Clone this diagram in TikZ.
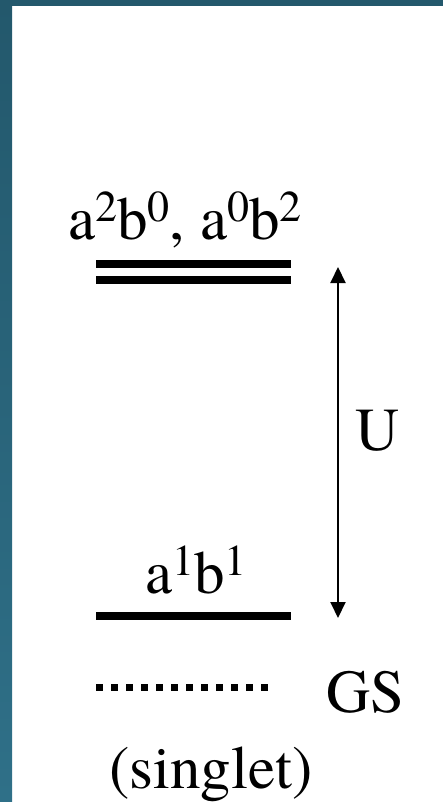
\documentclass[tikz,border=0pt]{standalone}
\usepackage{fontspec}
\setmainfont{texgyretermes-regular.otf}
\usetikzlibrary{arrows.meta}
\definecolor{slidetop}{RGB}{35,88,108}
\definecolor{slidebot}{RGB}{47,112,136}
\newcommand\sups[1]{\raisebox{18pt}{\fontsize{44}{44}\selectfont #1}}

\begin{document}
\begin{tikzpicture}[x=1pt, y=-1pt,
  every node/.style={font=\fontsize{61}{72}\selectfont, inner sep=0pt, anchor=base},
  level/.style={line width=8pt}]
  \useasboundingbox (0,0) rectangle (443,802);

  % slide frame
  \shade[top color=slidetop, bottom color=slidebot] (0,0) rectangle (12,802);
  \fill[slidetop] (0,0) rectangle (443,6);

  % levels
  \draw[level] (96,264) -- (291,264);
  \draw[level] (96,280) -- (291,280);
  \draw[level] (96,616) -- (291,616);
  \draw[line width=7pt, dash pattern=on 7pt off 8pt] (96,687) -- (273,687);

  \node (high) at (185,240) {a\sups{2}b\sups{0}, a\sups{0}b\sups{2}};
  \node (mid) at (196,593) {a\sups{1}b\sups{1}};
  \node (gs) at (365,712) {GS};
  \node (spin) at (211,788) {(singlet)};
  \node (gap) at (378,450) {U};

  \coordinate (upper) at (338,267);
  \coordinate (lower) at (338,618);
  \draw[{Triangle[width=15pt,length=16pt]}-{Triangle[width=15pt,length=16pt]}, line width=2pt] (upper) -- (lower);
\end{tikzpicture}
\end{document}
